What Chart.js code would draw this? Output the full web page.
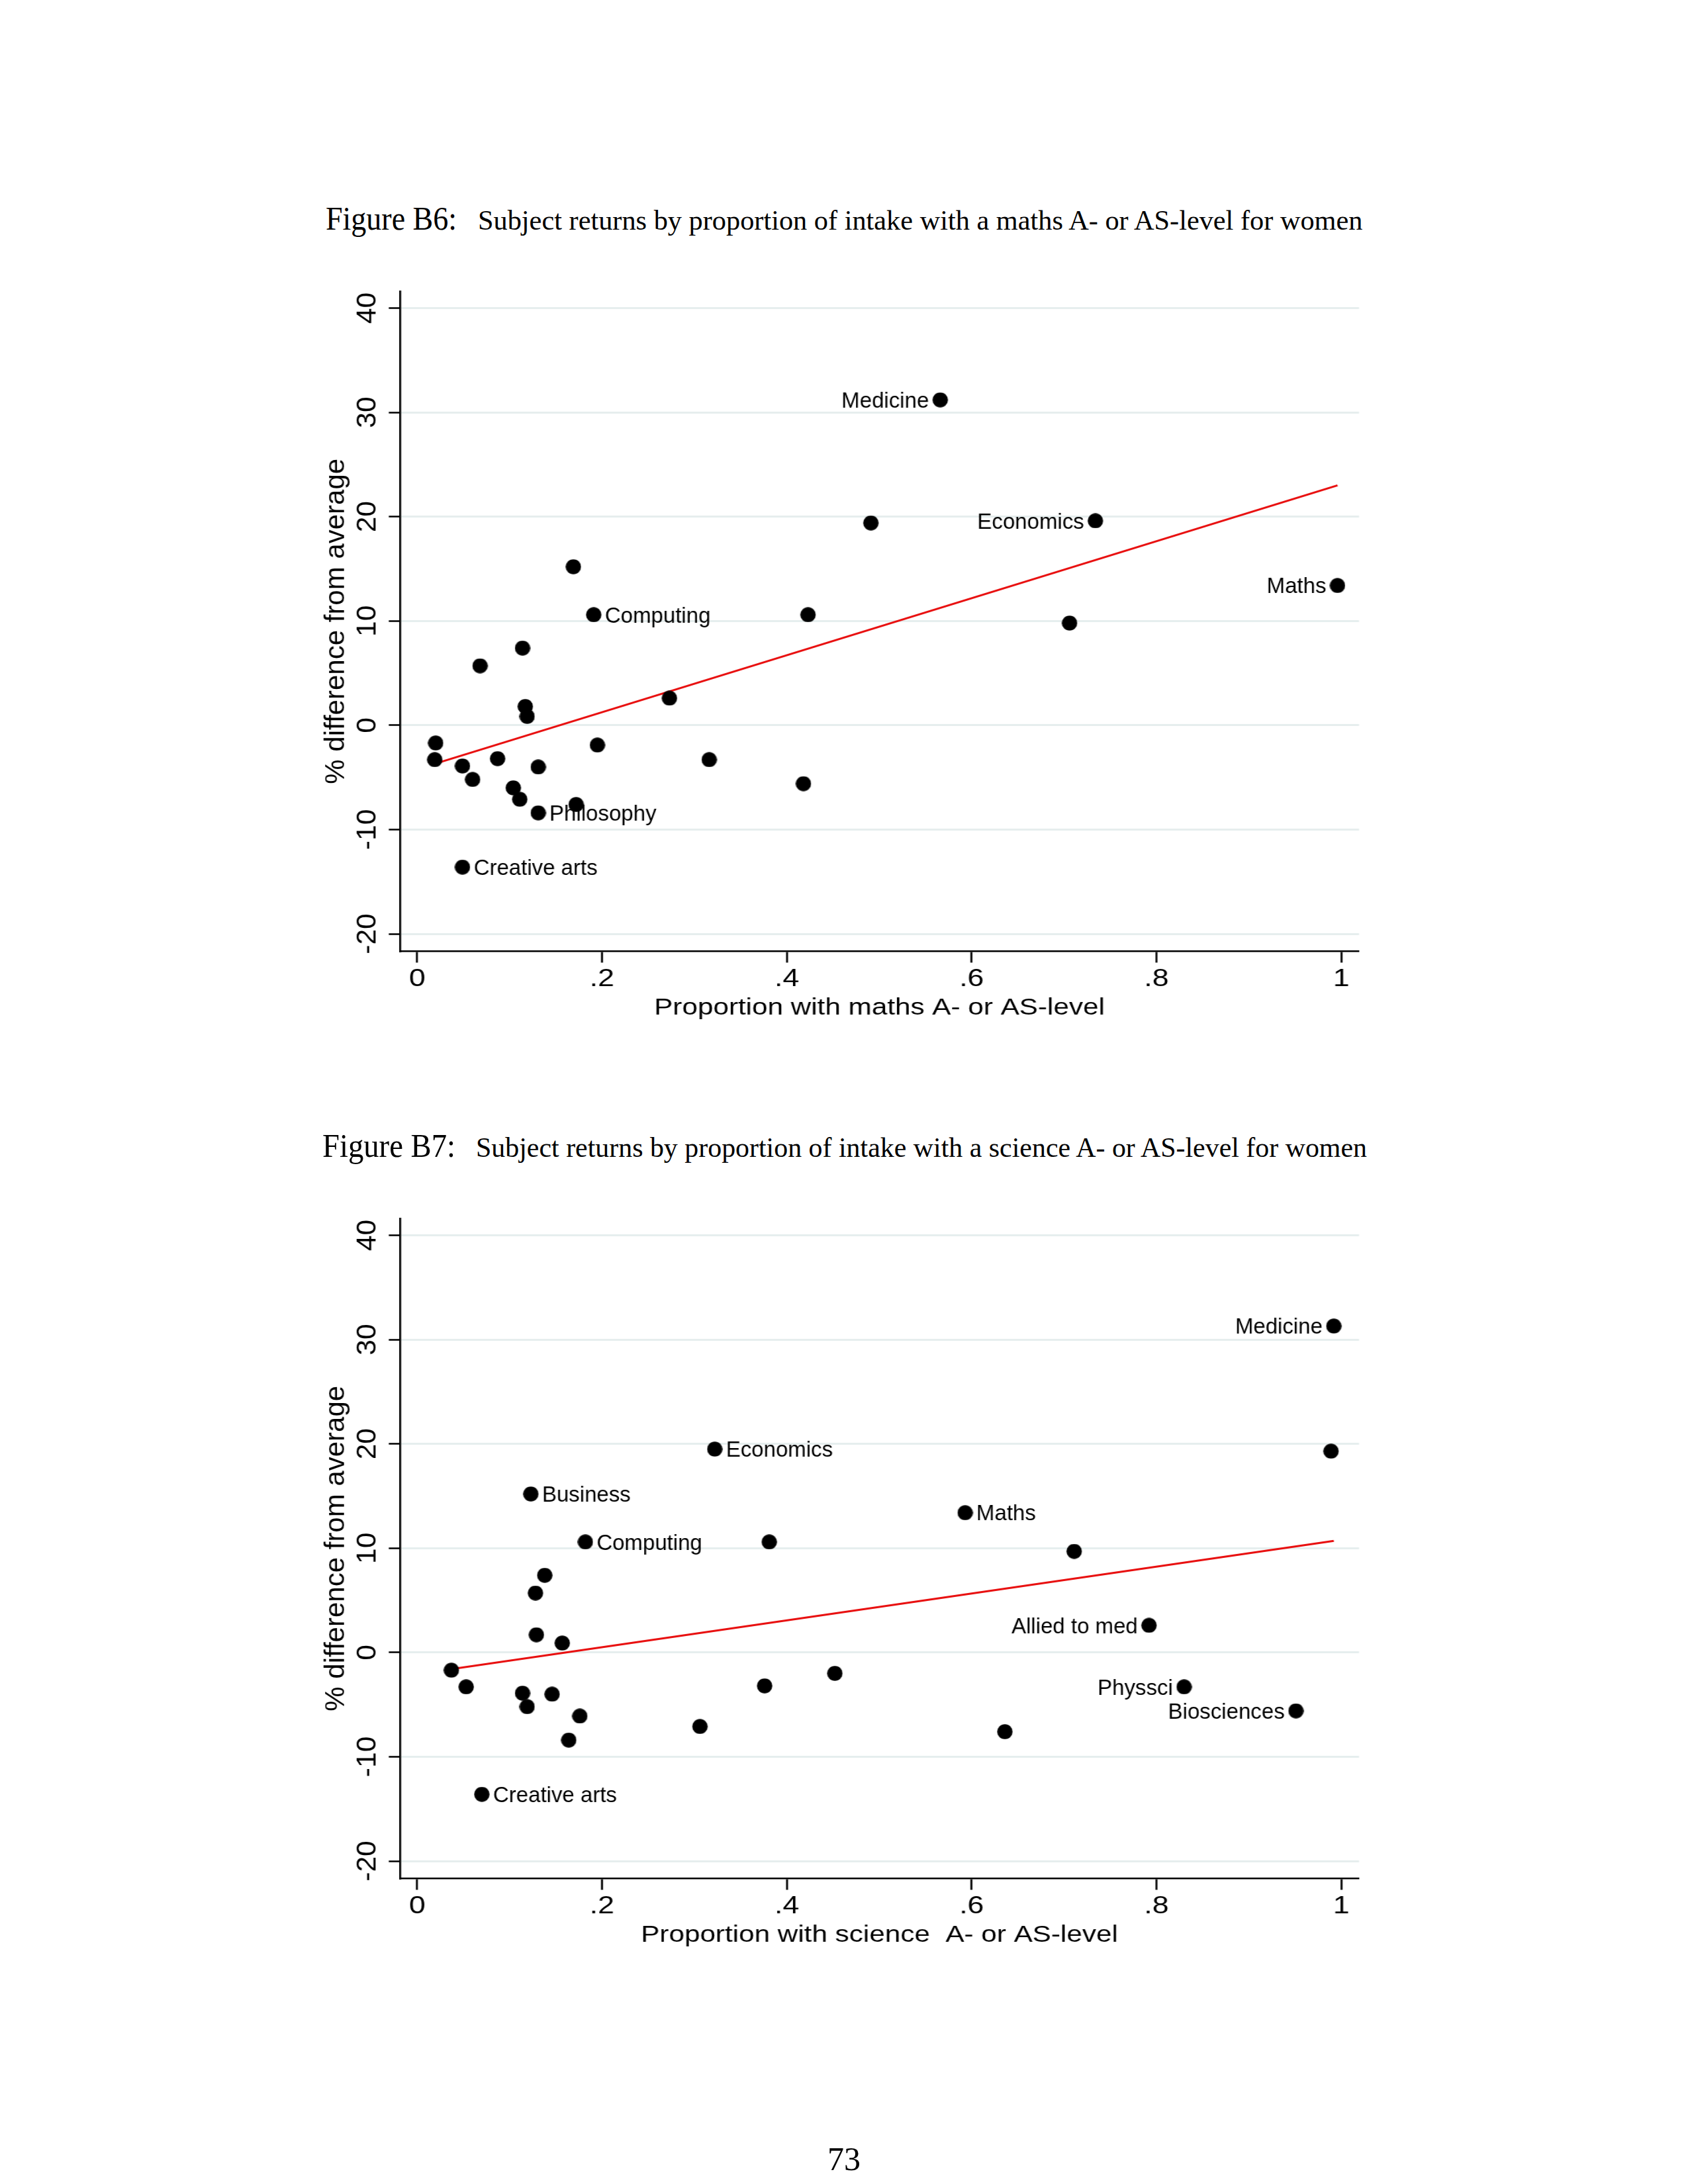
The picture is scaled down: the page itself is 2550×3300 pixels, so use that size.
<!DOCTYPE html>
<html>
<head>
<meta charset="utf-8">
<script src="https://cdn.jsdelivr.net/npm/chart.js@4.4.0/dist/chart.umd.min.js"></script>
<style>
  html, body { margin: 0; padding: 0; background: #fff; }
  body { width: 2550px; height: 3300px; position: relative; overflow: hidden; }
  .cap { position: absolute; white-space: nowrap; line-height: 1; color: #000;
         font-family: "Liberation Serif", "DejaVu Serif", serif; transform-origin: 0 0; }
  canvas { position: absolute; }
</style>
</head>
<body>
<span class="cap" style="left:492px;top:304.8px;font-size:50px" data-w="198">Figure B6:</span>
<span class="cap" style="left:721.5px;top:311.5px;font-size:42px" data-w="1336.5">Subject returns by proportion of intake with a maths A- or AS-level for women</span>
<canvas id="fig6" width="1412" height="1150" style="left:440px;top:410px;width:1680px;height:1150px"></canvas>

<span class="cap" style="left:486.8px;top:1705.8px;font-size:50px" data-w="201">Figure B7:</span>
<span class="cap" style="left:719px;top:1712.5px;font-size:42px" data-w="1346">Subject returns by proportion of intake with a science A- or AS-level for women</span>
<canvas id="fig7" width="1412" height="1150" style="left:440px;top:1811px;width:1680px;height:1150px"></canvas>

<div class="cap" style="left:0;width:2550px;text-align:center;top:3237px;font-size:50px">73</div>

<script>
// axis ticks shared by both figures
const yTicks = [-20, -10, 0, 10, 20, 30, 40];
const xTicks = [0, 0.2, 0.4, 0.6, 0.8, 1];
const xTickLabels = ["0", ".2", ".4", ".6", ".8", "1"];
const yTitle = "% difference from average";

// Figure B6: share of intake with maths A/AS-level vs % return
const mathsShare = [0.020, 0.019, 0.049, 0.060, 0.068, 0.087, 0.104, 0.111, 0.114, 0.117,
  0.119, 0.131, 0.131, 0.172, 0.195, 0.273, 0.316, 0.049, 0.169, 0.191,
  0.566, 0.491, 0.734, 0.996, 0.423, 0.706, 0.418];
const mathsReturn = [-1.7, -3.3, -3.9, -5.2, 5.7, -3.2, -6.0, -7.1, 7.4, 1.8,
  0.85, -4.0, -8.4, -7.6, -1.9, 2.6, -3.3, -13.6, 15.2, 10.6,
  31.2, 19.4, 19.6, 13.4, 10.6, 9.8, -5.6];
const mathsNames = ["", "", "", "", "", "", "", "", "", "",
  "", "", "Philosophy", "", "", "", "", "Creative arts", "", "Computing",
  "Medicine", "", "Economics", "Maths", "", "", ""];
const mathsLeft = ["Medicine", "Economics", "Maths"];
const mathsFitX = [0.019, 0.996];
const mathsFitY = [-3.7, 23.0];

// Figure B7: share of intake with science A/AS-level vs % return
const scienceShare = [0.322, 0.123, 0.182, 0.381, 0.037, 0.053, 0.138, 0.128, 0.129, 0.157,
  0.114, 0.119, 0.146, 0.176, 0.164, 0.306, 0.376, 0.070, 0.992, 0.989,
  0.593, 0.711, 0.792, 0.452, 0.830, 0.951, 0.636];
const scienceReturn = [19.5, 15.2, 10.6, 10.6, -1.7, -3.3, 7.4, 5.7, 1.7, 0.9,
  -3.9, -5.2, -4.0, -6.1, -8.4, -7.1, -3.2, -13.6, 31.3, 19.3,
  13.4, 9.7, 2.6, -2.0, -3.3, -5.6, -7.6];
const scienceNames = ["Economics", "Business", "Computing", "", "", "", "", "", "", "",
  "", "", "", "", "", "", "", "Creative arts", "Medicine", "",
  "Maths", "", "Allied to med", "", "Physsci", "Biosciences", ""];
const scienceLeft = ["Medicine", "Allied to med", "Physsci", "Biosciences"];
const scienceFitX = [0.037, 0.992];
const scienceFitY = [-1.6, 10.7];

// the horizontal text in the Stata graph is wide, so the canvas is stretched sideways
const S = 1680 / 1412;
const sans = '"Liberation Sans", Arial, sans-serif';
const gridColor = "#e6eeee";
const red = "rgb(232,16,16)";

// narrow marker, round again after the stretch
const dot = document.createElement("canvas");
dot.width = 20; dot.height = 23;
const dctx = dot.getContext("2d");
dctx.fillStyle = "#000";
dctx.beginPath();
dctx.ellipse(10, 11.5, 9.8, 11.3, 0, 0, Math.PI * 2);
dctx.fill();

// y tick labels and y title are upright text turned on its side, not stretched
const yAxisText = {
  id: "yAxisText",
  afterDraw(chart) {
    const y = chart.scales.y;
    const ctx = chart.ctx;
    const turned = (text, x, py, size) => {
      ctx.save();
      ctx.translate(x, py);
      ctx.scale(1 / S, 1);
      ctx.rotate(-Math.PI / 2);
      ctx.font = size + "px " + sans;
      ctx.fillText(text, 0, 0);
      ctx.restore();
    };
    ctx.save();
    ctx.fillStyle = "#000";
    ctx.textAlign = "center";
    ctx.textBaseline = "alphabetic";
    y.ticks.forEach(t => turned(String(t.value), y.right - 31.1, y.getPixelForValue(t.value), 42.5));
    turned(yTitle, 67.2, (chart.chartArea.top + chart.chartArea.bottom) / 2, 42);
    ctx.restore();
  }
};

const pointLabels = {
  id: "pointLabels",
  afterDatasetsDraw(chart, args, opts) {
    const meta = chart.getDatasetMeta(1);
    const ctx = chart.ctx;
    ctx.save();
    ctx.font = "33px " + sans;
    ctx.fillStyle = "#000";
    ctx.textBaseline = "alphabetic";
    meta.data.forEach((pt, i) => {
      const name = opts.names[i];
      if (!name) return;
      const left = opts.left.includes(name);
      ctx.save();
      ctx.translate(pt.x, pt.y);
      ctx.scale(1 / S, 1);
      ctx.textAlign = left ? "right" : "left";
      ctx.fillText(name, left ? -17 : 17, 11.8);
      ctx.restore();
    });
    ctx.restore();
  }
};

const makeChart = (id, share, ret, names, left, fitX, fitY, xTitle) => {
  const points = share.map((x, i) => ({ x: x, y: ret[i] }));
  const fit = fitX.map((x, i) => ({ x: x, y: fitY[i] }));

  return new Chart(document.getElementById(id), {
    type: "scatter",
    data: {
      datasets: [
        {
          type: "line",
          data: fit,
          borderColor: red,
          borderWidth: 3,
          pointRadius: 0,
          fill: false,
          order: 2,
        },
        {
          data: points,
          pointStyle: dot,
          pointRadius: 10,
          backgroundColor: "#000",
          order: 1,
        },
      ],
    },
    options: {
      responsive: false,
      animation: false,
      devicePixelRatio: 1,
      events: [],
      layout: { padding: { left: 0, right: 56.3, top: 30, bottom: 0 } },
      plugins: {
        legend: { display: false },
        tooltip: { enabled: false },
        pointLabels: { names: names, left: left },
      },
      scales: {
        x: {
          type: "linear",
          position: "bottom",
          min: -0.0188,
          max: 1.0193,
          afterBuildTicks: s => { s.ticks = xTicks.map(v => ({ value: v })); },
          afterFit: s => { s.height = 122.5; },
          grid: { drawOnChartArea: false, drawTicks: true, tickLength: 17, tickColor: "#000", tickWidth: 2.5 },
          border: { color: "#000", width: 2.5 },
          ticks: {
            color: "#000",
            font: { family: sans, size: 37.5, lineHeight: 1 },
            padding: 6.6,
            maxRotation: 0,
            autoSkip: false,
            callback: (v, i) => xTickLabels[i],
          },
          title: {
            display: true,
            text: xTitle,
            color: "#000",
            font: { family: sans, size: 35.5, lineHeight: 1 },
            padding: { top: 0, bottom: 18.8 },
          },
        },
        y: {
          type: "linear",
          min: -21.68,
          max: 41.62,
          afterBuildTicks: s => { s.ticks = yTicks.map(v => ({ value: v })); },
          afterFit: s => { s.width = 137.8; },
          grid: { color: gridColor, lineWidth: 3, drawTicks: true, tickLength: 14, tickColor: "#000", tickWidth: 2.5 },
          border: { color: "#000", width: 2.5 },
          ticks: { display: false },
          title: { display: false },
        },
      },
    },
    plugins: [pointLabels, yAxisText],
  });
};

makeChart("fig6", mathsShare, mathsReturn, mathsNames, mathsLeft,
  mathsFitX, mathsFitY, "Proportion with maths A- or AS-level");
makeChart("fig7", scienceShare, scienceReturn, scienceNames, scienceLeft,
  scienceFitX, scienceFitY, "Proportion with science  A- or AS-level");

// stretch the caption spans to the widths they have in the typeset page
document.querySelectorAll(".cap[data-w]").forEach(el => {
  const w = el.getBoundingClientRect().width;
  el.style.transform = "scaleX(" + (parseFloat(el.dataset.w) / w) + ")";
});
</script>
</body>
</html>
